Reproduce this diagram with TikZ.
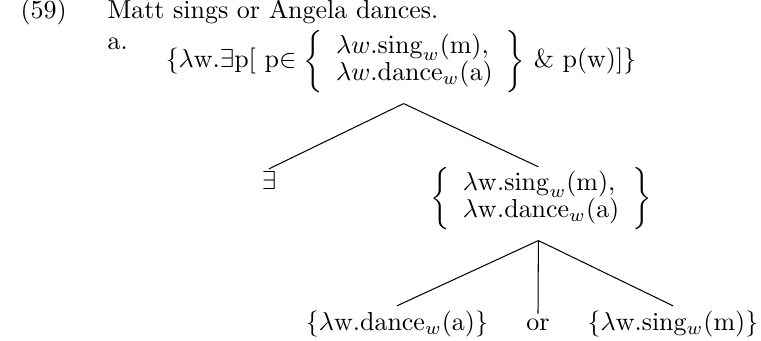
\documentclass[tikz,border=0pt]{standalone}
\renewcommand{\arraystretch}{0.83}
\tikzset{
  tnode/.style={inner sep=0pt,anchor=base},
  branch/.style={line width=0.4pt}
}
\begin{document}
\begin{tikzpicture}[x=0.385pt,y=-0.385pt]
			\useasboundingbox (0,0) rectangle (761,341);
			% example number, sentence and item label
			\node[tnode,anchor=base west] (num) at (20,19) {(59)};
			\node[tnode,anchor=base west] (sent) at (107,19) {Matt sings or Angela dances.};
			\node[tnode,anchor=base west] (item) at (107,50) {a.};
			% tree nodes
			\node[tnode] (root) at (401,68) {\{$\lambda$w.$\exists$p[ p$\in\left\{\begin{array}{l}\lambda w.\mathrm{sing}_w(\mathrm{m}),\\ \lambda w.\mathrm{dance}_w(\mathrm{a})\end{array}\right\}$ \& p(w)]\}};
			\node[tnode] (ex) at (269,190) {$\exists$};
			\node[tnode] (set) at (541,205) {$\left\{\begin{array}{l}\lambda\mathrm{w}.\mathrm{sing}_w(\mathrm{m}),\\ \lambda\mathrm{w}.\mathrm{dance}_w(\mathrm{a})\end{array}\right\}$};
			\node[tnode] (dance) at (397,331) {\{$\lambda$w.dance$_w$(a)\}};
			\node[tnode] (or) at (538,331) {or};
			\node[tnode] (sing) at (673,331) {\{$\lambda$w.sing$_w$(m)\}};
			% branches
			\draw[branch] ([xshift=1pt,yshift=-4pt]root.south) -- ([yshift=1pt]ex.north);
			\draw[branch] ([xshift=1pt,yshift=-4pt]root.south) -- ([xshift=-1pt]set.north);
			\foreach \n in {dance,or,sing}{\draw[branch] ([xshift=-1pt,yshift=-4pt]set.south) -- ([yshift=2pt]\n.north);}
\end{tikzpicture}
\end{document}
